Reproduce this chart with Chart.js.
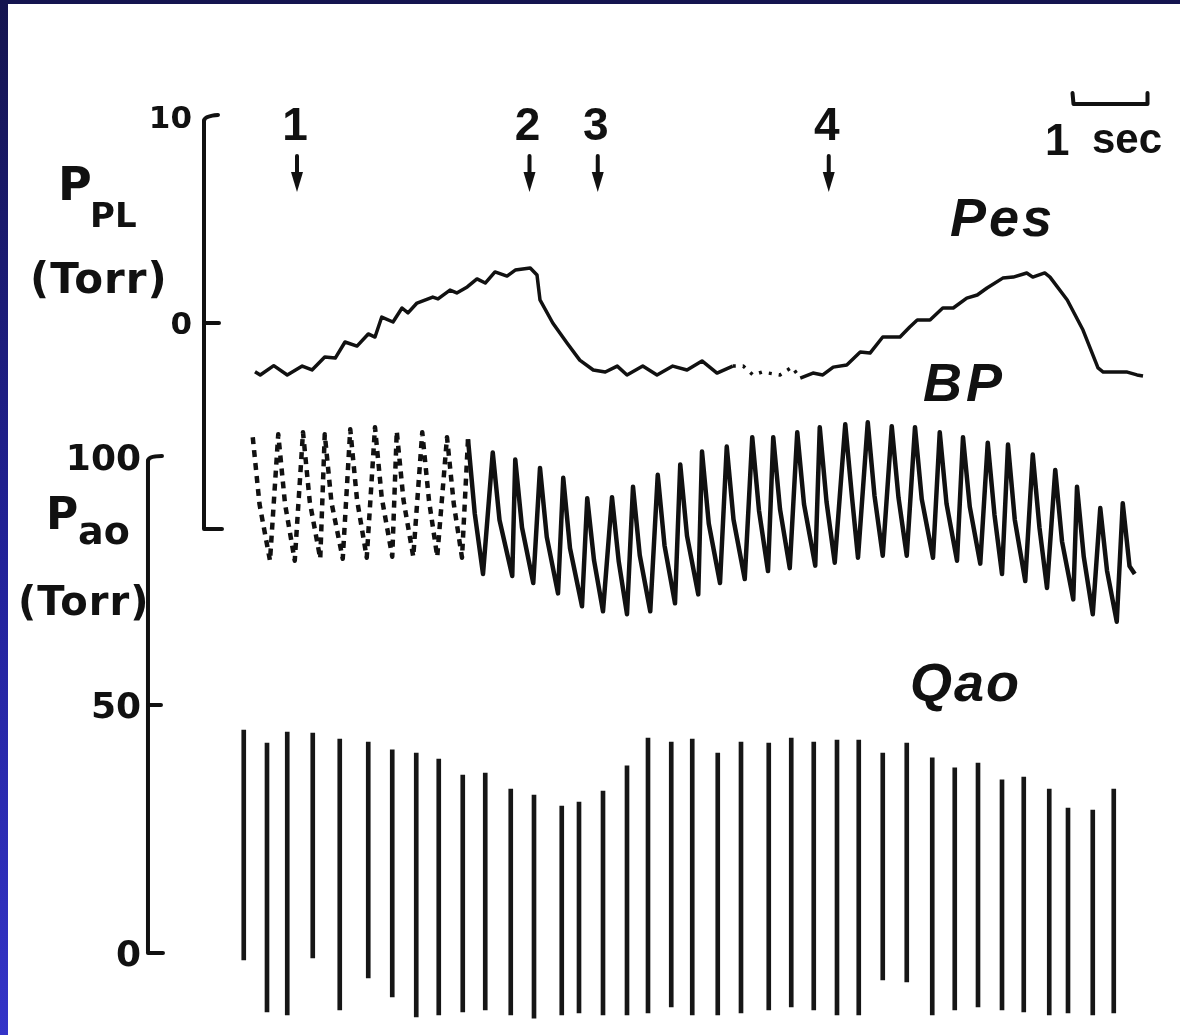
<!DOCTYPE html>
<html>
<head>
<meta charset="utf-8">
<script src="https://cdn.jsdelivr.net/npm/chart.js@4.4.1/dist/chart.umd.min.js"></script>
<style>
html, body { margin: 0; padding: 0; }
body {
    width: 1180px; height: 1035px; position: relative; overflow: hidden;
    background: linear-gradient(to bottom, #15154f 0%, #22229a 55%, #3434c8 100%);
}
#paper { position: absolute; left: 8px; top: 4px; right: 0; bottom: 0; background: #fff; }
#trace { position: absolute; left: 0; top: 0; }
.lbl {
    position: absolute; line-height: 1; white-space: nowrap; color: #111;
    font-family: "DejaVu Sans", sans-serif; font-weight: bold;
}
.it { font-family: "Liberation Sans", Arial, sans-serif; font-style: italic; font-weight: bold; }
.ls { font-family: "Liberation Sans", Arial, sans-serif; }
</style>
</head>
<body>
<div id="paper"></div>
<canvas id="trace" width="1180" height="1035"></canvas>

<div class="lbl" style="left:58px;top:161px;font-size:46px;">P</div>
<div class="lbl" style="left:90px;top:198px;font-size:34px;">PL</div>
<div class="lbl" style="left:30px;top:258px;font-size:42px;letter-spacing:1px;">(Torr)</div>

<div class="lbl" style="left:46px;top:492px;font-size:44px;">P</div>
<div class="lbl" style="left:78px;top:512px;font-size:38px;">ao</div>
<div class="lbl" style="left:18px;top:581px;font-size:40px;letter-spacing:1px;">(Torr)</div>

<div class="lbl it" style="left:950px;top:190px;font-size:54px;letter-spacing:3px;">Pes</div>
<div class="lbl it" style="left:923px;top:355px;font-size:54px;letter-spacing:4px;">BP</div>
<div class="lbl it" style="left:910px;top:655px;font-size:54px;letter-spacing:2px;">Qao</div>

<div class="lbl ls" style="left:1045px;top:118px;font-size:44px;">1</div>
<div class="lbl ls" style="left:1092px;top:118px;font-size:42px;">sec</div>

<script>
// time in seconds, pressures in Torr
const pesTime = [0.20,0.27,0.45,0.63,0.83,0.96,1.13,1.27,1.40,1.56,1.71,1.80,1.89,2.04,2.16,2.24,2.36,2.57,2.64,2.80,
    2.89,3.03,3.16,3.27,3.40,3.56,3.67,3.87,3.96,4.00,4.17,4.36,4.53,4.71,4.87,5.03,5.16,5.37,5.56,5.77,
    5.96,6.16,6.36,6.57,6.71,6.84,6.96,7.20,7.36,7.47,7.64,7.77,7.91,8.09,8.27,8.40,8.57,8.80,8.93,9.03,
    9.20,9.37,9.51,9.69,9.83,9.96,10.17,10.31,10.49,10.57,10.73,10.80,11.03,11.24,11.44,11.51,11.83,11.96,12.04];
const pesPressure = [-2.36,-2.52,-2.07,-2.52,-2.09,-2.28,-1.65,-1.70,-0.92,-1.12,-0.53,-0.68,0.29,0.05,0.73,0.49,0.97,1.26,1.17,1.60,
    1.46,1.75,2.14,1.94,2.48,2.28,2.57,2.67,2.33,1.12,0,-0.97,-1.80,-2.28,-2.38,-2.09,-2.52,-2.09,-2.52,-2.09,
    -2.28,-1.84,-2.43,-2.09,-2.09,-2.52,-2.38,-2.52,-2.14,-2.67,-2.43,-2.52,-2.14,-2.04,-1.41,-1.46,-0.68,-0.68,-0.19,0.15,
    0.15,0.73,0.73,1.21,1.36,1.70,2.18,2.23,2.43,2.23,2.43,2.23,1.12,-0.34,-2.18,-2.38,-2.38,-2.52,-2.57];

// aortic pressure: trough, systolic peak, notch for each beat
const bpTime = [0.17,0.26, 0.40,0.51,0.60, 0.73,0.84,0.93, 1.07,1.13,1.22, 1.37,1.47,1.56, 1.69,1.80,1.89,
    2.03,2.09,2.18, 2.31,2.43,2.52, 2.63,2.76,2.85, 2.96,3.04,3.13, 3.24,3.37,3.46, 3.63,3.67,3.76,
    3.91,4.00,4.09, 4.24,4.31,4.40, 4.56,4.63,4.72, 4.84,4.96,5.05, 5.16,5.24,5.33, 5.47,5.57,5.66,
    5.80,5.87,5.96, 6.11,6.16,6.25, 6.40,6.49,6.58, 6.73,6.83,6.92, 7.04,7.11,7.20, 7.33,7.43,7.52,
    7.67,7.73,7.82, 7.93,8.07,8.16, 8.24,8.37,8.46, 8.57,8.69,8.78, 8.89,9.00,9.09, 9.24,9.33,9.42,
    9.56,9.64,9.73, 9.87,9.97,10.06, 10.16,10.24,10.33, 10.47,10.57,10.66, 10.76,10.87,10.96,
    11.11,11.16,11.25, 11.37,11.47,11.56, 11.69,11.77,11.86, 11.93];
const bpPressure = [104.0,90.5, 79.1,104.6,90.6, 79.1,105.0,91.0, 79.5,104.6,90.8, 79.5,105.6,91.4, 79.7,106.0,91.8,
    79.9,105.2,91.3, 79.9,105.0,91.2, 79.9,104.0,90.6, 79.7,103.6,88.6, 76.4,100.9,87.3, 76.0,99.5,85.8,
    74.6,97.8,83.9, 72.5,95.8,81.6, 69.9,91.7,79.2, 68.9,91.9,78.9, 68.3,94.0,80.2, 68.9,96.4,82.2,
    70.5,98.5,84.1, 72.3,101.1,86.6, 74.6,102.1,87.4, 75.4,104.0,89.2, 77.0,104.0,89.5, 77.6,105.0,90.5,
    78.1,106.0,91.0, 78.7,106.6,91.9, 79.7,107.0,92.2, 80.1,106.2,91.8, 80.1,106.0,91.5, 79.7,105.0,90.6,
    79.1,104.0,90.0, 78.5,102.9,88.3, 76.4,102.5,87.4, 75.0,100.5,85.7, 73.6,97.4,83.0,
    71.3,94.0,79.9, 68.3,89.7,77.1, 66.8,90.7,78.0, 76.4];

// aortic flow strokes (relative units): bottom and top of each beat
const qaoTime = [0.05,0.36,0.63,0.97,1.33,1.71,2.03,2.35,2.65,2.97,3.27,3.61,3.92,4.29,4.52,4.84,5.16,5.44,5.75,6.03,
    6.37,6.68,7.05,7.35,7.65,7.96,8.25,8.57,8.89,9.23,9.53,9.84,10.16,10.45,10.79,11.04,11.37,11.65];
const qaoTop = [100,95.4,99.3,98.9,96.8,95.8,93.0,91.9,89.8,84.2,84.9,79.3,77.2,73.3,74.7,78.6,87.4,97.2,95.8,96.8,
    91.9,95.8,95.4,97.2,95.8,96.5,96.5,91.9,95.4,90.2,86.7,88.4,82.5,83.5,79.3,72.6,71.9,79.3];
const qaoBottom = [19.3,1.1,0,20.0,1.8,13.0,6.3,-0.7,0,1.1,1.8,0,-1.1,0,0.7,0,0,0.7,2.8,0,
    0,0.7,1.8,2.8,1.8,0,0,12.3,11.6,0,1.8,2.8,1.8,1.1,0,0.7,0,0.7];

// axis ticks and event markers
const pesTicks = [10, 0];
const pesAxisRange = [-10, 10];
const paoTicks = [100, 50, 0];
const paoAxisRange = [0, 100];
const eventTimes = [0.76, 3.86, 4.77, 7.85];
const eventLabels = ['1', '2', '3', '4'];
const secBarStart = 11.1;

const pesAxisAt = -0.48;
const paoAxisAt = -1.227;

const pesPoints = pesTime.map((t, i) => ({ x: t, y: pesPressure[i] }));
const bpPoints = bpTime.map((t, i) => ({ x: t, y: bpPressure[i] }));
const qaoBars = qaoTime.map((t, i) => ({ x: t, y: [qaoBottom[i], qaoTop[i]] }));

const INK = '#111';

const paperAxes = {
    id: 'paperAxes',
    afterDatasetsDraw(chart) {
        const { ctx } = chart;
        const { x, yP, yA } = chart.scales;
        ctx.save();
        ctx.strokeStyle = INK;
        ctx.fillStyle = INK;
        ctx.lineWidth = 4;
        ctx.lineCap = 'round';
        ctx.lineJoin = 'round';

        // pleural pressure axis
        let ax = x.getPixelForValue(pesAxisAt);
        let top = yP.getPixelForValue(pesAxisRange[1]);
        let bot = yP.getPixelForValue(pesAxisRange[0]);
        ctx.beginPath();
        ctx.moveTo(ax, top + 4);
        ctx.lineTo(ax, bot);
        ctx.lineTo(ax + 18, bot);
        ctx.stroke();
        ctx.font = 'bold 31px "DejaVu Sans", sans-serif';
        ctx.textAlign = 'right';
        pesTicks.forEach(v => {
            const py = yP.getPixelForValue(v);
            ctx.beginPath();
            if (v === pesAxisRange[1]) {
                ctx.moveTo(ax, py + 4);
                ctx.quadraticCurveTo(ax, py - 1, ax + 14, py - 2);
            } else {
                ctx.moveTo(ax, py);
                ctx.lineTo(ax + 15, py);
            }
            ctx.stroke();
            ctx.fillText(String(v), ax - 12, py + 11);
        });

        // aortic pressure axis
        ax = x.getPixelForValue(paoAxisAt);
        top = yA.getPixelForValue(paoAxisRange[1]);
        bot = yA.getPixelForValue(paoAxisRange[0]);
        ctx.beginPath();
        ctx.moveTo(ax, top + 4);
        ctx.lineTo(ax, bot);
        ctx.lineTo(ax + 15, bot);
        ctx.stroke();
        ctx.font = 'bold 36px "DejaVu Sans", sans-serif';
        paoTicks.forEach(v => {
            const py = yA.getPixelForValue(v);
            ctx.beginPath();
            if (v === paoAxisRange[1]) {
                ctx.moveTo(ax, py + 4);
                ctx.quadraticCurveTo(ax, py - 1, ax + 14, py - 1);
            } else if (v !== paoAxisRange[0]) {
                ctx.moveTo(ax, py);
                ctx.lineTo(ax + 13, py);
            }
            ctx.stroke();
            ctx.fillText(String(v), ax - 7, py + 13);
        });

        // event markers
        ctx.font = 'bold 46px "Liberation Sans", Arial, sans-serif';
        ctx.textAlign = 'center';
        eventTimes.forEach((t, i) => {
            const ex = x.getPixelForValue(t);
            ctx.fillText(eventLabels[i], ex - 2, 140);
            ctx.lineWidth = 4;
            ctx.beginPath();
            ctx.moveTo(ex, 156);
            ctx.lineTo(ex, 176);
            ctx.stroke();
            ctx.beginPath();
            ctx.moveTo(ex - 6, 172);
            ctx.lineTo(ex + 6, 172);
            ctx.lineTo(ex, 192);
            ctx.closePath();
            ctx.fill();
        });

        // one-second bar
        const s0 = x.getPixelForValue(secBarStart);
        const s1 = x.getPixelForValue(secBarStart + 1);
        ctx.lineWidth = 4;
        ctx.beginPath();
        ctx.moveTo(s0, 93);
        ctx.lineTo(s0 + 1, 104);
        ctx.lineTo(s1, 104);
        ctx.lineTo(s1, 93);
        ctx.stroke();
        ctx.restore();
    }
};

const canvas = document.getElementById('trace');
const ctx = canvas.getContext('2d');

const chart = new Chart(ctx, {
    type: 'line',
    data: {
        datasets: [
            {
                label: 'Pes',
                yAxisID: 'yP',
                data: pesPoints,
                borderColor: INK,
                borderWidth: 3.5,
                borderJoinStyle: 'round',
                pointRadius: 0,
                tension: 0,
                segment: {
                    borderDash: c => (c.p0.parsed.x >= 6.5 && c.p1.parsed.x <= 7.5) ? [3, 7] : undefined
                }
            },
            {
                label: 'BP',
                yAxisID: 'yA',
                data: bpPoints,
                borderColor: INK,
                borderWidth: 4.5,
                borderJoinStyle: 'round',
                pointRadius: 0,
                tension: 0,
                segment: {
                    borderDash: c => (c.p1.parsed.x <= 3.1) ? [7, 6] : undefined
                }
            },
            {
                type: 'bar',
                label: 'Qao',
                yAxisID: 'yQ',
                data: qaoBars,
                backgroundColor: '#161616',
                borderWidth: 0,
                barThickness: 4
            }
        ]
    },
    options: {
        responsive: false,
        animation: false,
        events: [],
        layout: { padding: 0 },
        plugins: { legend: { display: false }, tooltip: { enabled: false } },
        scales: {
            x: { type: 'linear', min: -3.2, max: 12.5333, offset: false, grid: { offset: false }, display: false },
            yP: { type: 'linear', min: -34.56, max: 15.68, display: false },
            yA: { type: 'linear', min: -16.53, max: 192.14, display: false },
            yQ: { type: 'linear', min: -7.02, max: 356.14, display: false }
        }
    },
    plugins: [paperAxes]
});
</script>
</body>
</html>
